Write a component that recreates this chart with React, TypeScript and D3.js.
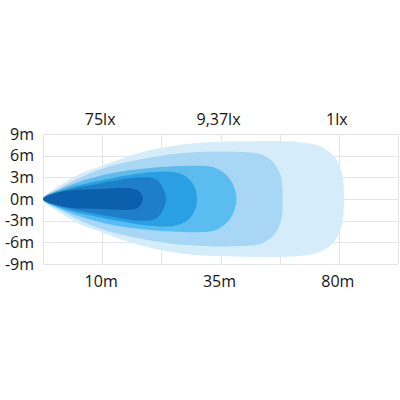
import * as d3 from "d3";

// x is measured in grid columns (0..6), y in metres
const yTicks = [9, 6, 3, 0, -3, -6, -9];
const xGrid = [0, 1, 2, 3, 4, 5, 6];
const distanceTicks = [1, 3, 5];
const distanceLabels = ["10m", "35m", "80m"];
const luxLabels = ["75lx", "9,37lx", "1lx"];

// upper half of each isolux contour, [column, metres], outermost first
const lux1: [number, number][] = [
  [0, 0], [0.29, 1.9], [0.63, 3.5], [1.0, 4.6], [1.47, 6.0], [2.0, 7.1],
  [2.65, 7.8], [3.5, 8.0], [4.3, 7.9], [4.68, 7.3], [4.93, 5.8], [5.05, 3.6], [5.09, 0],
];
const lux2: [number, number][] = [
  [0, 0], [0.3, 1.6], [1.0, 4.2], [2.01, 6.0], [2.65, 6.5], [3.33, 6.5],
  [3.68, 6.2], [3.9, 5.0], [4.02, 3.1], [4.05, 0],
];
const lux9: [number, number][] = [
  [0, 0], [0.3, 1.4], [1.0, 3.3], [1.81, 4.3], [2.6, 4.6], [2.88, 4.4],
  [3.06, 3.6], [3.2, 2.2], [3.27, 0],
];
const lux20: [number, number][] = [
  [0, 0], [0.3, 1.2], [1.0, 2.6], [1.81, 3.7], [2.23, 3.7], [2.45, 2.9],
  [2.57, 1.5], [2.6, 0],
];
const lux40: [number, number][] = [
  [0, 0], [0.3, 1.0], [1.0, 2.2], [1.64, 3.0], [1.89, 2.8], [2.01, 1.8], [2.08, 0],
];
const lux75: [number, number][] = [
  [0, 0], [0.3, 1.0], [1.0, 1.4], [1.5, 1.45], [1.62, 1.1], [1.69, 0],
];

const contours = [lux1, lux2, lux9, lux20, lux40, lux75];
const colors = ["#d5ecfa", "#a7d7f4", "#5abcef", "#28a0e1", "#1e7fc8", "#0b5fab"];

const W = 400;
const H = 400;
const font = "'Open Sans', 'DejaVu Sans', sans-serif";

export default function App() {
  const x = d3.scaleLinear().domain([0, 6]).range([43, 398]);
  const y = d3.scaleLinear().domain([-9, 9]).range([264, 134]);

  const shape = d3
    .line<[number, number]>()
    .x((d) => x(d[0]))
    .y((d) => y(d[1]))
    .curve(d3.curveCatmullRomClosed.alpha(0.5));

  // mirror the upper half to close the contour
  const ring = (half: [number, number][]) => {
    const lower = half
      .slice(1, -1)
      .reverse()
      .map(([c, m]) => [c, -m] as [number, number]);
    return [...half, ...lower];
  };

  return (
    <svg
      width={W}
      height={H}
      style={{ position: "absolute", left: 0, top: 0, background: "#fff" }}
    >
      {/* grid */}
      <g stroke="#e4e4e4" strokeWidth={1}>
        {yTicks.map((t) => (
          <line key={t} x1={x(0)} x2={x(6)} y1={Math.round(y(t)) + 0.5} y2={Math.round(y(t)) + 0.5} />
        ))}
        {xGrid.map((c) => (
          <line key={c} x1={Math.round(x(c)) + 0.5} x2={Math.round(x(c)) + 0.5} y1={y(9)} y2={y(-9)} />
        ))}
      </g>

      {/* contours */}
      {contours.map((half, i) => (
        <path key={i} d={shape(ring(half)) ?? ""} fill={colors[i]} />
      ))}

      {/* y labels */}
      <g fontFamily={font} fontSize={16} fill="#161616" textAnchor="end">
        {yTicks.map((t) => (
          <text key={t} x={34} y={y(t)} dy="0.35em">
            {`${t}m`}
          </text>
        ))}
      </g>

      {/* lux labels on top, distances below */}
      <g fontFamily={font} fontSize={16} fill="#161616" textAnchor="middle">
        {distanceTicks.map((c, i) => (
          <text key={"l" + c} x={x(c) - 2} y={125}>
            {luxLabels[i]}
          </text>
        ))}
        {distanceTicks.map((c, i) => (
          <text key={"d" + c} x={x(c) - 1} y={287}>
            {distanceLabels[i]}
          </text>
        ))}
      </g>
    </svg>
  );
}
